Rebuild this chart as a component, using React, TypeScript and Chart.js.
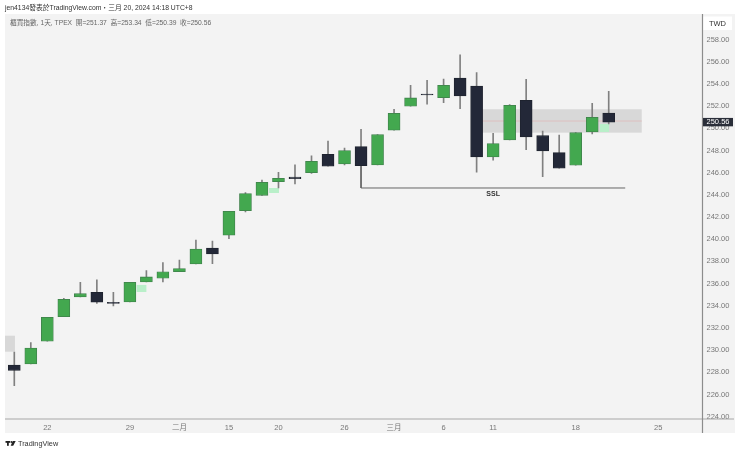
import React, { useEffect, useRef } from "react";
import { Chart, registerables } from "chart.js";

Chart.register(...registerables);

// ---- data ----
const opens = [228.66,228.75,230.80,233.02,234.79,235.22,234.32,234.34,236.15,236.48,237.07,237.77,239.20,240.36,242.58,243.96,245.19,245.61,246.00,247.66,246.79,248.35,246.70,249.83,251.99,253.10,252.76,254.54,253.82,247.42,248.95,252.53,249.34,247.81,246.67,249.67,251.37];
const closes = [228.18,230.19,232.96,234.59,235.09,234.32,234.21,236.12,236.60,237.07,237.35,239.12,238.67,242.52,244.11,245.14,245.50,245.46,247.03,246.58,247.99,246.63,249.43,251.36,252.74,253.01,253.88,252.92,247.42,248.62,252.08,249.22,247.96,246.40,249.61,251.00,250.56];
const highs = [229.83,230.67,232.96,234.66,236.12,236.33,235.22,236.12,237.17,237.89,238.13,239.93,239.84,242.52,244.20,245.34,246.04,246.70,247.51,248.86,248.23,249.92,249.43,251.72,253.88,254.33,254.45,256.62,255.02,249.55,252.15,254.42,249.76,249.40,249.61,252.26,253.34];
const lows = [226.80,228.75,230.80,233.02,234.79,234.21,233.98,234.34,236.15,236.15,237.07,237.77,237.80,240.05,242.46,243.96,244.62,244.98,245.93,246.58,246.70,246.60,246.70,249.83,251.99,252.17,252.31,251.77,246.04,247.12,248.95,248.08,245.64,246.40,246.67,249.49,250.39];

const xTickIndex = [2,7,10,13,16,20,23,26,29,34,39];
const xTickLabels = ["22","29","二月","15","20","26","三月","6","11","18","25"];
const yTickValues = [224,226,228,230,232,234,236,238,240,242,244,246,248,250,252,254,256,258];

const sslLine = [{ x: 21, y: 246.6 }, { x: 21, y: 244.62 }, { x: 37, y: 244.62 }];
const greyZones = [[-0.563, 0.04, 229.86, 231.3], [28, 38, 249.61, 251.72]];
const greenZones = [[7.41, 8.0, 235.24, 235.88], [15.43, 16.03, 244.17, 244.62], [35.47, 36.02, 249.67, 250.39]];
const midLine = [28, 38, 250.66];
const lastClose = 250.56;

const headerText = "jen4134發表於TradingView.com・三月 20, 2024 14:18 UTC+8";
const legendText = "櫃買指數, 1天, TPEX  開=251.37  高=253.34  低=250.39  收=250.56";
const sslText = "SSL";
const currencyText = "TWD";
const brandText = "TradingView";

const FONT = '"Liberation Sans","Noto Sans CJK TC",sans-serif';

const xs = opens.map((_, i) => i);
const isUp = opens.map((o, i) => closes[i] >= o);

const backPlugin = {
  id: "back",
  beforeDraw(c: any) {
    const ctx = c.ctx;
    ctx.save();
    ctx.fillStyle = "#ffffff";
    ctx.fillRect(0, 0, 740, 453);
    ctx.fillStyle = "#f3f3f3";
    ctx.fillRect(5, 14, 730, 419);
    ctx.fillStyle = "#ffffff";
    ctx.fillRect(703, 16.5, 29, 13.5);
    ctx.restore();
  },
  beforeDatasetsDraw(c: any) {
    const ctx = c.ctx;
    const { x, y } = c.scales;
    ctx.save();
    ctx.fillStyle = "#d8d8d8";
    greyZones.forEach(([a, b, lo, hi]) => {
      ctx.fillRect(x.getPixelForValue(a), y.getPixelForValue(hi), x.getPixelForValue(b) - x.getPixelForValue(a), y.getPixelForValue(lo) - y.getPixelForValue(hi));
    });
    ctx.fillStyle = "#b9efc9";
    greenZones.forEach(([a, b, lo, hi]) => {
      ctx.fillRect(x.getPixelForValue(a), y.getPixelForValue(hi), x.getPixelForValue(b) - x.getPixelForValue(a), y.getPixelForValue(lo) - y.getPixelForValue(hi));
    });
    ctx.strokeStyle = "#e0b4b4";
    ctx.lineWidth = 0.7;
    ctx.beginPath();
    ctx.moveTo(x.getPixelForValue(midLine[0]), y.getPixelForValue(midLine[2]));
    ctx.lineTo(x.getPixelForValue(midLine[1]), y.getPixelForValue(midLine[2]));
    ctx.stroke();
    ctx.restore();
  },
  afterDraw(c: any) {
    const ctx = c.ctx;
    const { x, y } = c.scales;
    ctx.save();
    // axis lines
    ctx.strokeStyle = "#a8a8a8";
    ctx.lineWidth = 1.2;
    ctx.beginPath();
    ctx.moveTo(5, 419);
    ctx.lineTo(734, 419);
    ctx.stroke();
    ctx.strokeStyle = "#8c8c8c";
    ctx.beginPath();
    ctx.moveTo(702.5, 14);
    ctx.lineTo(702.5, 433);
    ctx.stroke();
    // texts
    ctx.textBaseline = "middle";
    ctx.textAlign = "left";
    ctx.fillStyle = "#333333";
    ctx.font = `6.8px ${FONT}`;
    ctx.fillText(headerText, 5, 8.5);
    ctx.fillStyle = "#666666";
    ctx.font = `6.7px ${FONT}`;
    ctx.fillText(legendText, 10, 23.5);
    ctx.fillStyle = "#333333";
    ctx.font = `bold 7px ${FONT}`;
    ctx.textAlign = "center";
    ctx.fillText(sslText, x.getPixelForValue(29), 194);
    ctx.font = `7.5px ${FONT}`;
    ctx.fillStyle = "#333333";
    ctx.fillText(currencyText, 717.5, 23.5);
    // last price tag
    const py = y.getPixelForValue(lastClose);
    ctx.fillStyle = "#2a2e39";
    ctx.fillRect(703, py - 4.2, 30, 8.4);
    ctx.fillStyle = "#ffffff";
    ctx.font = `7.5px ${FONT}`;
    ctx.fillText(lastClose.toFixed(2), 718, py + 0.3);
    // brand
    ctx.fillStyle = "#222222";
    ctx.fillRect(5.5, 441, 4.5, 1.8);
    ctx.fillRect(7, 441, 1.8, 4.8);
    ctx.beginPath();
    ctx.arc(11.3, 442, 0.9, 0, Math.PI * 2);
    ctx.fill();
    ctx.beginPath();
    ctx.moveTo(12.7, 441);
    ctx.lineTo(15.7, 441);
    ctx.lineTo(13.2, 445.8);
    ctx.lineTo(10.7, 445.8);
    ctx.closePath();
    ctx.fill();
    ctx.fillStyle = "#333333";
    ctx.textAlign = "left";
    ctx.font = `7.3px ${FONT}`;
    ctx.fillText(brandText, 18, 443.5);
    ctx.restore();
  },
};

export default function App() {
  const ref = useRef<HTMLCanvasElement>(null);
  useEffect(() => {
    const chart = new Chart(ref.current as HTMLCanvasElement, {
      type: "bar",
      data: {
        datasets: [
          {
            type: "line",
            data: sslLine,
            borderColor: "#666666",
            borderWidth: 1,
            pointRadius: 0,
            tension: 0,
            order: 3,
          },
          {
            data: xs.map((i) => ({ x: i, y: [lows[i], highs[i]] })),
            backgroundColor: "#808080",
            barThickness: 1,
            grouped: false,
            order: 2,
          },
          {
            data: xs.map((i) => ({ x: i, y: [Math.min(opens[i], closes[i]), Math.max(opens[i], closes[i])] })),
            backgroundColor: isUp.map((u) => (u ? "#43a84f" : "#232838")),
            borderColor: isUp.map((u) => (u ? "#3f7f4b" : "#1e222d")),
            borderWidth: 0.8,
            borderSkipped: false,
            barThickness: 12,
            grouped: false,
            order: 1,
          },
        ] as any,
      },
      options: {
        responsive: false,
        animation: false,
        devicePixelRatio: 1,
        layout: { padding: { left: 5, top: 14, right: 5, bottom: 20 } },
        plugins: { legend: { display: false }, tooltip: { enabled: false } },
        scales: {
          x: {
            type: "linear",
            offset: false,
            min: -0.563,
            max: 41.68,
            grid: { display: false, drawTicks: false },
            border: { display: false },
            afterBuildTicks: (s: any) => {
              s.ticks = xTickIndex.map((v) => ({ value: v }));
            },
            afterFit: (s: any) => {
              s.height = 14;
            },
            ticks: {
              autoSkip: false,
              maxRotation: 0,
              padding: 4,
              color: "#777777",
              font: { size: 7.5, family: FONT },
              callback: (v: any) => xTickLabels[xTickIndex.indexOf(Number(v))] ?? "",
            },
          },
          y: {
            type: "linear",
            position: "right",
            min: 223.79,
            max: 260.31,
            grid: { display: false, drawTicks: false },
            border: { display: false },
            afterBuildTicks: (s: any) => {
              s.ticks = yTickValues.map((v) => ({ value: v }));
            },
            afterFit: (s: any) => {
              s.width = 32.5;
            },
            ticks: {
              autoSkip: false,
              padding: 4,
              color: "#777777",
              font: { size: 7.5, family: FONT },
              callback: (v: any) => Number(v).toFixed(2),
            },
          },
        },
      } as any,
      plugins: [backPlugin],
    });
    return () => chart.destroy();
  }, []);
  return (
    <div style={{ position: "fixed", left: 0, top: 0, width: 740, height: 453 }}>
      <canvas ref={ref} width={740} height={453} style={{ display: "block", width: 740, height: 453 }} />
    </div>
  );
}
